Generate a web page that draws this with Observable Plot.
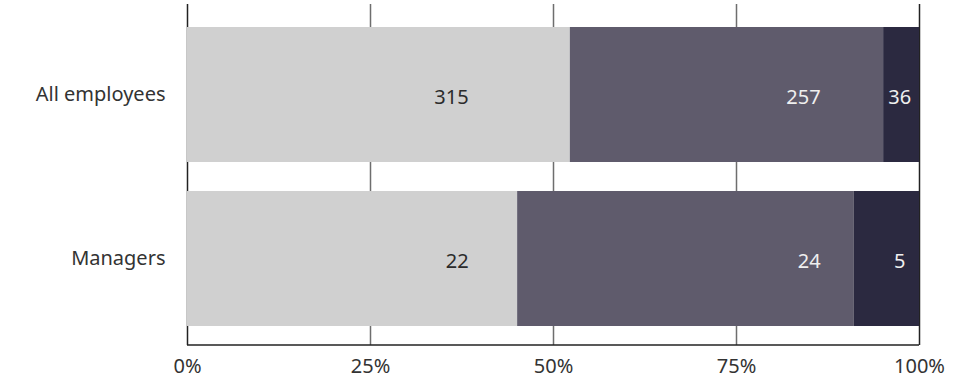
<!DOCTYPE html>
<html>
<head>
<meta charset="utf-8">
<script src="https://cdn.jsdelivr.net/npm/d3@7"></script>
<script src="https://cdn.jsdelivr.net/npm/@observablehq/plot@0.6"></script>
<style>
  html, body { margin: 0; padding: 0; background: #fff; }
  #chart { width: 977px; height: 378px; }
</style>
</head>
<body>
<div id="chart"></div>
<script>
// ---- data ----
const groups = ["All employees", "Managers"];
const seriesNames = ["First", "Second", "Third"];
const countsAll = [315, 257, 36];
const countsManagers = [22, 24, 5];
// segment shares (%)
const sharesAll = [52.3, 42.8, 4.9];
const sharesManagers = [45.1, 46.0, 8.9];
const tickValues = [0, 25, 50, 75, 100];
const tickLabels = ["0%", "25%", "50%", "75%", "100%"];

const rows = [];
[[groups[0], countsAll, sharesAll], [groups[1], countsManagers, sharesManagers]].forEach(([g, c, s]) => {
  seriesNames.forEach((name, i) => rows.push({group: g, series: name, count: c[i], share: s[i]}));
});

// ---- styling / layout ----
const colors = ["#d0d0d0", "#5f5b6c", "#2b2940"];
const labelColors = ["#2b2b2b", "#efefef", "#efefef"];
const labelColumn = {First: 38.4, Second: 86.5, Third: 97.3};
const labelAnchor = {First: "end", Second: "end", Third: "middle"};

const marks = [
  Plot.ruleX([25, 50, 75], {stroke: "#6e6e6e", strokeWidth: 1.5}),
  Plot.ruleX([0, 100], {stroke: "#222", strokeWidth: 1.5}),
  Plot.barX(rows, Plot.stackX({x: "share", y: "group", fill: "series"})),
  // bottom axis line
  (index, scales, values, dims) => {
    const yy = dims.height - dims.marginBottom;
    return d3.create("svg:line")
      .attr("x1", scales.x(0)).attr("x2", scales.x(100))
      .attr("y1", yy).attr("y2", yy)
      .attr("stroke", "#222").attr("stroke-width", 1.5)
      .node();
  }
];
seriesNames.forEach((name, i) => {
  marks.push(Plot.text(rows.filter(d => d.series === name), {
    x: () => labelColumn[name],
    y: "group",
    text: d => String(d.count),
    fill: labelColors[i],
    textAnchor: labelAnchor[name],
    fontSize: 20,
    dy: 3
  }));
});

const chart = Plot.plot({
  width: 977,
  height: 378,
  marginTop: 4,
  marginBottom: 33,
  marginLeft: 187,
  marginRight: 58,
  style: {fontFamily: "Noto Sans", fontSize: "20px", color: "#333", background: "#fff"},
  x: {
    domain: [0, 100],
    ticks: tickValues,
    tickFormat: d => tickLabels[tickValues.indexOf(d)],
    tickSize: 0,
    tickPadding: 13,
    label: null
  },
  y: {
    domain: groups,
    paddingInner: 0.177,
    paddingOuter: 0.128,
    align: 0.548,
    tickSize: 0,
    tickPadding: 22,
    label: null
  },
  color: {domain: seriesNames, range: colors},
  marks
});
document.getElementById("chart").appendChild(chart);
</script>
</body>
</html>
